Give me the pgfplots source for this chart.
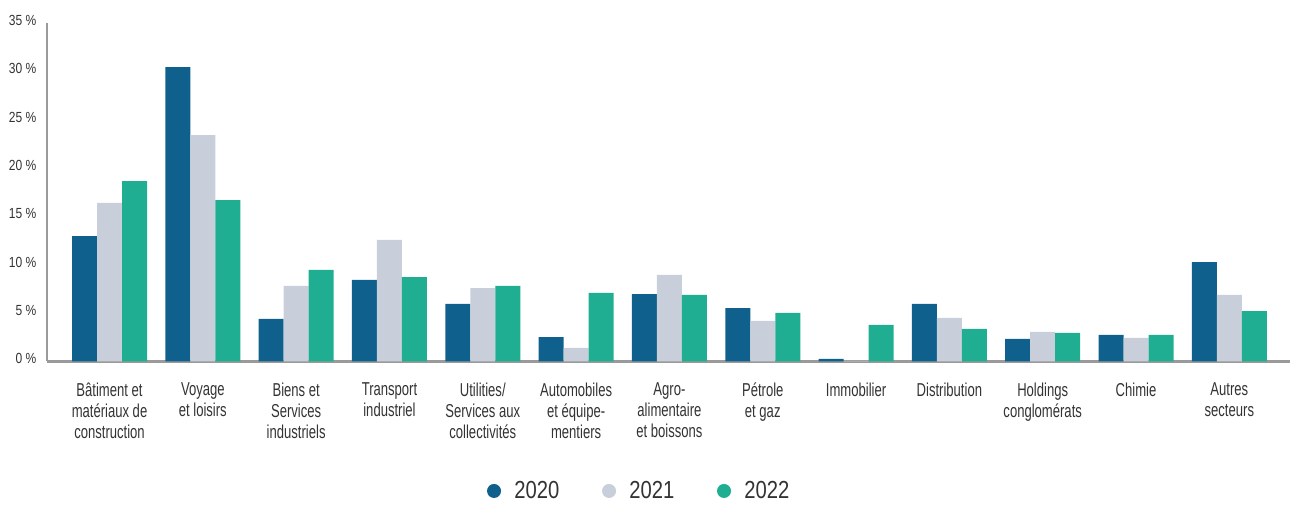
\documentclass[border=0pt]{standalone}
\usepackage{fontspec}
\setmainfont{Liberation Sans}[FakeStretch=0.7]
\newfontfamily\legfont{Liberation Sans}[FakeStretch=0.82]
\usepackage{pgfplots}
\pgfplotsset{compat=1.18}
\definecolor{cA}{HTML}{0F608C}
\definecolor{cB}{HTML}{C8CFDA}
\definecolor{cC}{HTML}{1FAE91}
\definecolor{txt}{HTML}{333333}
\definecolor{axl}{HTML}{9A9A9A}
\begin{document}
\begin{tikzpicture}
\begin{axis}[
  name=ax,
  scale only axis,
  width=932.25pt, height=253.7pt,
  ybar=0pt, bar width=18.75pt,
  xmin=-0.67, xmax=12.65,
  ymin=0, ymax=35,
  axis lines=left,
  axis line style={axl, line width=1.2pt, -},
  axis x line*=bottom,
  x axis line style={line width=1.6pt, color=axl},
  major tick length=0pt,
  xtick={0,...,12},
  xticklabels={{Bâtiment et\\matériaux de\\construction},{Voyage\\et loisirs},{Biens et\\Services\\industriels},{Transport\\industriel},{Utilities/\\Services aux\\collectivités},{Automobiles\\et équipe-\\mentiers},{Agro-\\alimentaire\\et boissons},{Pétrole\\et gaz},{Immobilier},{Distribution},{Holdings\\conglomérats},{Chimie},{Autres\\secteurs}},
  xticklabel style={align=center, font=\fontsize{14pt}{15.75pt}\selectfont, text=txt, yshift=-12.5pt},
  ytick={0,5,...,35},
  yticklabel={\pgfmathprintnumber{\tick}~\%},
  /pgf/number format/assume math mode=true,
  yticklabel style={font=\legfont\fontsize{11pt}{12pt}\selectfont, text=txt, xshift=-4.5pt, yshift=2pt},
  clip=false,
  legend style={at={(0.4767,-0.3828)}, anchor=center, draw=none, legend columns=3,
    font=\legfont\fontsize{18.5pt}{20pt}\selectfont, text=txt,
    /tikz/every odd column/.append style={column sep=8pt},
    /tikz/every even column/.append style={column sep=30pt}},
  legend image code/.code={\fill[#1] (0pt,0pt) circle (5.25pt);},
]
\addplot[fill=cA, draw=none] coordinates {(0,12.98) (1,30.46) (2,4.4) (3,8.43) (4,5.95) (5,2.53) (6,6.98) (7,5.53) (8,0.26) (9,5.95) (10,2.33) (11,2.74) (12,10.29)};
\addplot[fill=cB, draw=none] coordinates {(0,16.4) (1,23.43) (2,7.81) (3,12.57) (4,7.6) (5,1.4) (6,8.95) (7,4.19) (8,0.06) (9,4.5) (10,3.05) (11,2.43) (12,6.88)};
\addplot[fill=cC, draw=none] coordinates {(0,18.67) (1,16.7) (2,9.47) (3,8.74) (4,7.81) (5,7.09) (6,6.88) (7,5.02) (8,3.78) (9,3.36) (10,2.95) (11,2.74) (12,5.22)};
\legend{2020,2021,2022}
\end{axis}
\path ([shift={(-35.25pt,-105.4pt)}]ax.south west) ([shift={(2.25pt,17.4pt)}]ax.north east);
\end{tikzpicture}
\end{document}
